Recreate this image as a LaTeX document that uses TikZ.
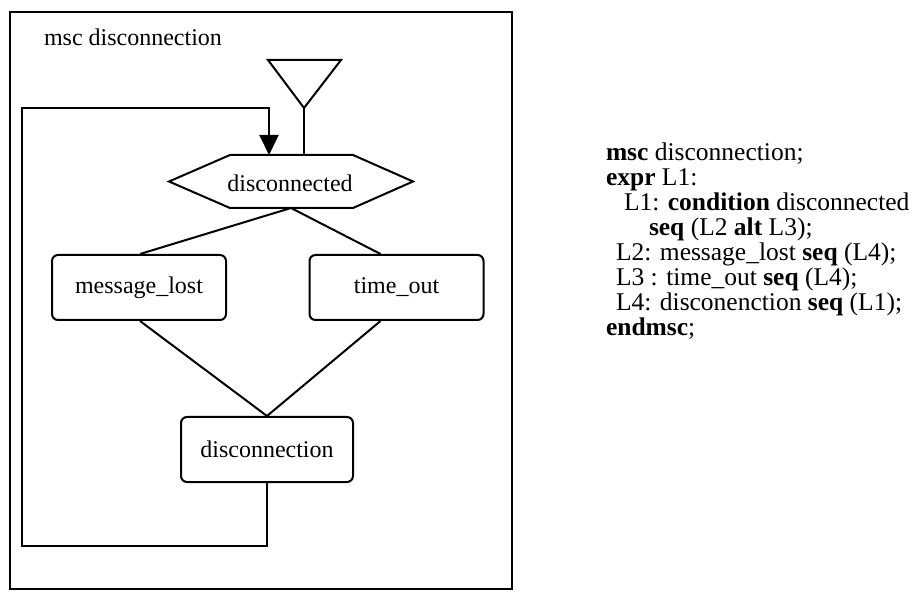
\documentclass[tikz,border=0pt]{standalone}
\usepackage{fontspec}
\setmainfont{Liberation Serif}
\usetikzlibrary{arrows.meta,calc}
\begin{document}
\begin{tikzpicture}[x=1pt,y=-1pt,
  line width=2pt,
  txt/.style={font=\fontsize{24}{26}\selectfont, inner sep=0pt},
  action/.style={draw, rounded corners=6pt, minimum width=174pt, minimum height=65pt, txt},
  loopline/.style={-{Triangle[width=19pt,length=20pt]}}
]
\useasboundingbox (0,0) rectangle (924,593);
% frame
\draw (10,12) rectangle (512,589);
\node[txt, anchor=base west] (title) at (43,46) {msc disconnection};

% start symbol
\coordinate (apex) at (304,108);
\draw (268,60) -- (341,60) -- (apex) -- cycle;

% condition
\node[txt] (cond) at (290,183) {disconnected};
\coordinate (ctop) at (304,155);
\coordinate (cbot) at (291,208);
\draw (169,181.5) -- (230,155) -- (353,155) -- (413,181.5) -- (353,208) -- (230,208) -- cycle;
\draw (apex) -- (ctop);

% actions
\node[action] (msg) at (139,287.5) {message\_lost};
\node[action] (tout) at (396.5,287.5) {time\_out};
\node[action, minimum width=172pt] (disc) at (267,449.5) {disconnection};

\draw (cbot) -- ($(msg.north)+(1,0)$);
\draw (cbot) -- ($(tout.north)+(-16,0)$);
\draw ($(msg.south)+(1,0)$) -- (disc.north);
\draw ($(tout.south)+(-16,0)$) -- (disc.north);

% loop back
\coordinate (lb) at (22,546);
\coordinate (lt) at (22,108);
\coordinate (ain) at (269,155);
\draw[loopline] (disc.south) |- (lb) -- (lt) -| (ain);

% textual form
\node[anchor=north west, align=left, inner sep=0pt,
      font=\fontsize{25.5}{25}\selectfont] (expr) at (605,142) {%
\textbf{msc} disconnection;\\
\textbf{expr} L1:\\
\hspace{18pt}L1: \textbf{condition} disconnected\\
\hspace{43pt}\textbf{seq} (L2 \textbf{alt} L3);\\
\hspace{10pt}L2: message\_lost \textbf{seq} (L4);\\
\hspace{10pt}L3 : time\_out \textbf{seq} (L4);\\
\hspace{10pt}L4: disconenction \textbf{seq} (L1);\\
\textbf{endmsc};};
\end{tikzpicture}
\end{document}
